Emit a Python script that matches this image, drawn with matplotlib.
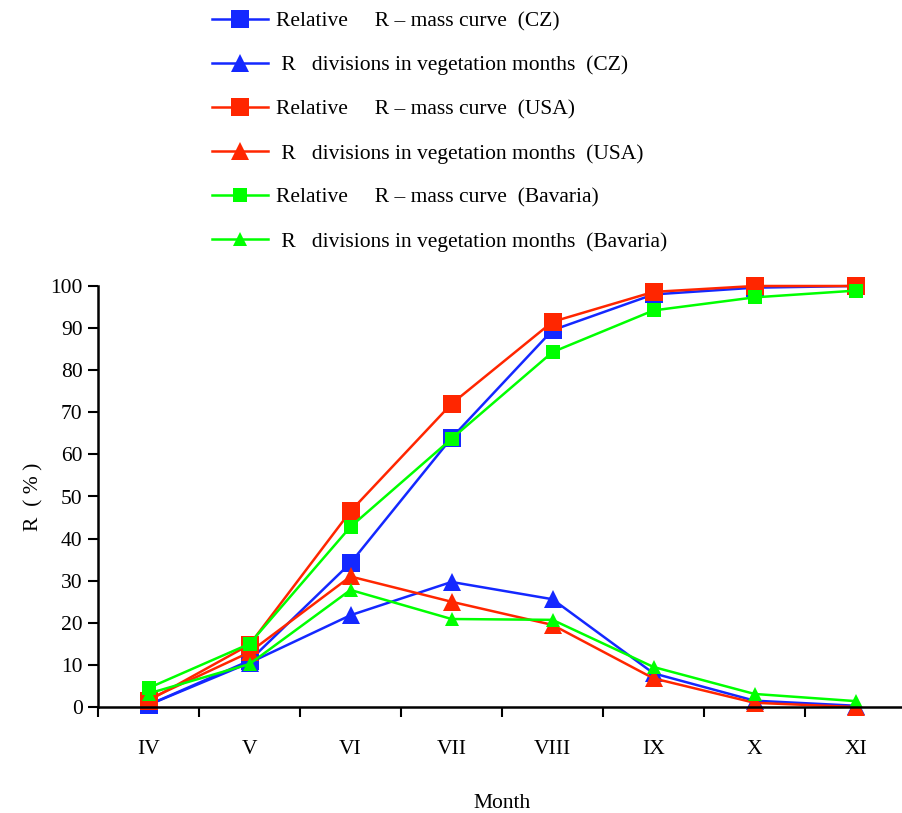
import matplotlib
matplotlib.use("Agg")
import matplotlib.pyplot as plt
import numpy as np

plt.rcParams['font.family'] = ['Liberation Serif', 'DejaVu Serif']

months = ["IV", "V", "VI", "VII", "VIII", "IX", "X", "XI"]

cz_mass = [0.5, 11, 34.2, 63.9, 89.5, 98, 99.6, 100]
cz_div = [0.5, 10.5, 21.8, 29.7, 25.6, 8, 1.5, 0.3]
usa_mass = [1.5, 14.8, 46.5, 72, 91.5, 98.6, 100, 100]
usa_div = [1.8, 13, 31, 25, 19.5, 6.8, 1, 0]
bav_mass = [4.5, 15, 42.8, 63.7, 84.3, 94.2, 97.3, 98.9]
bav_div = [3.2, 10.2, 27.8, 20.9, 20.7, 9.5, 3.1, 1.4]

labels = [
    "Relative     R – mass curve  (CZ)",
    " R   divisions in vegetation months  (CZ)",
    "Relative     R – mass curve  (USA)",
    " R   divisions in vegetation months  (USA)",
    "Relative     R – mass curve  (Bavaria)",
    " R   divisions in vegetation months  (Bavaria)",
]

blue = '#1428ff'
red = '#ff2600'
green = '#00ff00'

W, H = 903, 813
fig = plt.figure(figsize=(W / 100, H / 100), dpi=100)
ax = fig.add_axes([98 / W, (H - 707) / H, 808 / W, 421 / H])

x = np.arange(len(months))
series = [
    (cz_mass, blue, 's', 12.5),
    (cz_div, blue, '^', 12.5),
    (usa_mass, red, 's', 12.5),
    (usa_div, red, '^', 12.5),
    (bav_mass, green, 's', 10),
    (bav_div, green, '^', 10),
]
handles = []
for (vals, c, m, ms), lab in zip(series, labels):
    h, = ax.plot(x, vals, color=c, marker=m, markersize=ms, lw=1.8,
                 markeredgewidth=0, label=lab, clip_on=False)
    handles.append(h)

ax.set_xlim(-0.5, len(months) - 0.5)
ax.set_ylim(0, 100)
ax.set_yticks(np.arange(0, 101, 10))
ax.set_xticks(np.arange(-0.5, len(months), 1.0))
ax.set_xticklabels([])
ax.set_xticks(x, minor=True)
ax.set_xticklabels(months, minor=True)
ax.tick_params(axis='x', which='minor', length=0, pad=24, labelsize=15.5)
ax.tick_params(axis='x', which='major', length=7, width=1.5, direction='out')
ax.tick_params(axis='y', length=7, width=1.5, direction='out', labelsize=15.5, pad=4)
for s in ['top', 'right']:
    ax.spines[s].set_visible(False)
for s in ['left', 'bottom']:
    ax.spines[s].set_linewidth(1.8)

ax.set_xlabel("Month", fontsize=15.5, labelpad=25)
ax.set_ylabel("R  ( % )", fontsize=15.5, labelpad=5)

fig.legend(handles=handles, loc='upper left', bbox_to_anchor=(212 / W, 1 - 11 / H),
           frameon=False, fontsize=15.5, handlelength=2.6, handletextpad=0.35,
           labelspacing=1.12, borderaxespad=0, borderpad=0)

fig.savefig("out.png", dpi=100)
